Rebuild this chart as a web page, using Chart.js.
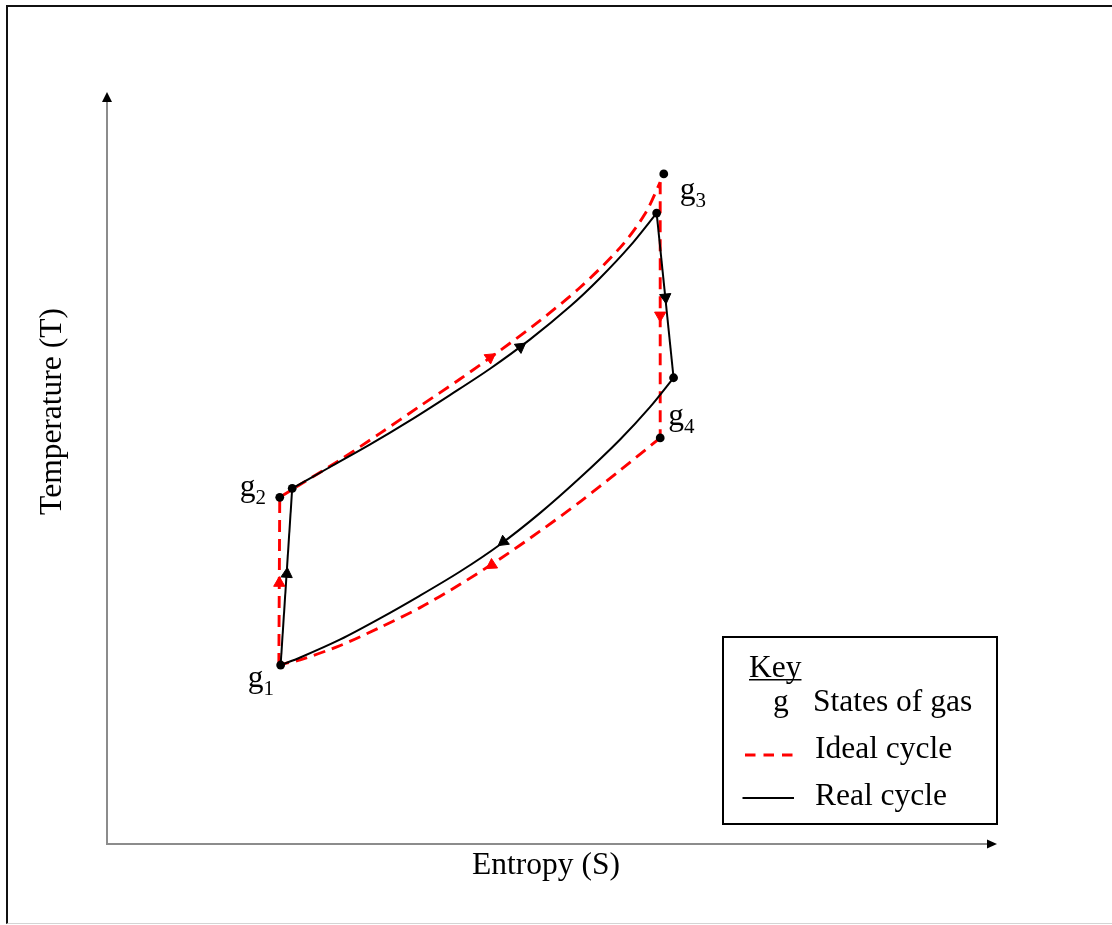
<!DOCTYPE html>
<html><head><meta charset="utf-8">
<script src="https://cdn.jsdelivr.net/npm/chart.js@4.4.1/dist/chart.umd.min.js"></script>
<style>
html,body{margin:0;padding:0;background:#fff;}
#wrap{position:relative;width:1112px;height:925px;overflow:hidden;}
#frame{position:absolute;left:6px;top:5px;width:1120px;height:916px;border-top:2px solid #111;border-left:2px solid #111;border-bottom:1px solid #d4d4d4;pointer-events:none;}
canvas{position:absolute;left:0;top:0;}
</style></head><body>
<div id="wrap"><canvas id="c" width="1112" height="925"></canvas><div id="frame"></div></div>
<script>
// ---- Data (arbitrary units: S and T scaled 0..100 along the drawn axes) ----
const stateNames = ['g1', 'g2', 'g3', 'g4'];

// State points
const realStateS  = [19.6, 20.9, 61.8, 63.7];
const realStateT  = [23.8, 47.3, 83.9, 62.0];
const idealStateS = [19.4, 19.5, 62.6, 62.2];
const idealStateT = [23.8, 46.1, 89.1, 54.0];

// Real cycle processes
const real12S = [19.6, 20.9];
const real12T = [23.8, 47.3];
const real23S = [20.9, 25.1, 29.6, 34.1, 38.6, 43.1, 47.6, 52.1, 55.4, 58.8, 61.8];
const real23T = [47.3, 50.1, 53.1, 56.3, 59.7, 63.2, 67.1, 71.5, 75.2, 79.5, 83.9];
const real34S = [61.8, 63.7];
const real34T = [83.9, 62.0];
const real41S = [63.7, 61.05, 57.7, 53.2, 48.7, 44.2, 39.7, 35.2, 30.75, 26.3, 21.8, 19.6];
const real41T = [62.0, 58.1, 53.8, 48.7, 44.0, 39.8, 36.2, 33.0, 30.0, 27.2, 24.8, 23.8];

// Ideal cycle processes
const ideal12S = [19.4, 19.5];
const ideal12T = [23.8, 46.1];
const ideal23S = [19.5, 21.8, 26.3, 30.75, 35.2, 39.7, 44.2, 48.7, 53.2, 57.7, 60.5, 62.2];
const ideal23T = [46.1, 47.8, 51.1, 54.6, 58.2, 61.8, 65.6, 69.6, 74.0, 79.3, 83.8, 88.0];
const ideal34S = [62.2, 62.2];
const ideal34T = [88.0, 54.0];
const ideal41S = [62.2, 57.7, 53.2, 48.7, 44.2, 39.7, 35.2, 30.75, 26.3, 21.8, 19.4];
const ideal41T = [54.0, 49.7, 45.5, 41.6, 37.9, 34.5, 31.4, 28.8, 26.4, 24.5, 23.8];

// Direction arrows on each process (position along the path)
const realArrowS  = [20.3, 46.5, 62.8, 44.6];
const realArrowT  = [35.9, 66.1, 72.7, 40.2];
const idealArrowS = [19.45, 43.1, 62.2, 43.3];
const idealArrowT = [34.7, 64.7, 70.3, 37.1];

// Axis / legend text
const xTitle = 'Entropy (S)';
const yTitle = 'Temperature (T)';
const legendTitle = 'Key';
const legendItems = ['States of gas', 'Ideal cycle', 'Real cycle'];

// ---- Helpers ----
const pts = (xs, ys) => xs.map((x, i) => ({x, y: ys[i]}));
const RED = '#ff0000';
const FONT = "'Liberation Serif','Times New Roman',serif";
const realArrowRot  = [4, 54, 174.5, 233];
const idealArrowRot = [0, 54.6, 180, 237];

function idealLine(data, tension) {
  return {type: 'line', data, borderColor: RED, borderWidth: 2.9, borderDash: [12, 7],
          pointRadius: 0, tension, fill: false, order: 3};
}
function realLine(data, tension) {
  return {type: 'line', data, borderColor: '#000', borderWidth: 2,
          pointRadius: 0, tension, fill: false, order: 2};
}

const decor = {
  id: 'decor',
  beforeDatasetsDraw(chart) {
    const {ctx, chartArea: a} = chart;
    ctx.save();
    ctx.strokeStyle = '#8c8c8c';
    ctx.lineWidth = 2;
    ctx.beginPath();
    ctx.moveTo(a.left + 1, a.bottom); ctx.lineTo(a.left + 1, a.top + 8);
    ctx.moveTo(a.left, a.bottom); ctx.lineTo(a.right - 8, a.bottom);
    ctx.stroke();
    ctx.fillStyle = '#000';
    ctx.beginPath();
    ctx.moveTo(a.left + 1, a.top); ctx.lineTo(a.left - 4, a.top + 10); ctx.lineTo(a.left + 6, a.top + 10);
    ctx.closePath(); ctx.fill();
    ctx.beginPath();
    ctx.moveTo(a.right, a.bottom); ctx.lineTo(a.right - 10, a.bottom - 4.5); ctx.lineTo(a.right - 10, a.bottom + 4.5);
    ctx.closePath(); ctx.fill();
    ctx.restore();
  },
  afterDraw(chart) {
    const {ctx, scales} = chart;
    const xs = scales.x, ys = scales.y;
    ctx.save();
    ctx.fillStyle = '#000';
    ctx.textBaseline = 'alphabetic';
    // Axis titles
    ctx.font = `31.5px ${FONT}`;
    ctx.textAlign = 'center';
    ctx.fillText(xTitle, 546, 874);
    ctx.save();
    ctx.translate(61, 411.5);
    ctx.rotate(-Math.PI / 2);
    ctx.fillText(yTitle, 0, 0);
    ctx.restore();

    // State labels g1..g4 (anchored to the ideal state points)
    const offs = [[-31, 22], [-40, -1], [16, 25], [8, -13]];
    ctx.textAlign = 'left';
    stateNames.forEach((name, i) => {
      const px = xs.getPixelForValue(idealStateS[i]) + offs[i][0];
      const py = ys.getPixelForValue(idealStateT[i]) + offs[i][1];
      ctx.font = `31.5px ${FONT}`;
      ctx.fillText(name[0], px, py);
      const w = ctx.measureText(name[0]).width;
      ctx.font = `21px ${FONT}`;
      ctx.fillText(name.slice(1), px + w, py + 8);
    });

    // Legend box
    ctx.lineWidth = 2;
    ctx.strokeStyle = '#000';
    ctx.strokeRect(723, 637, 274, 187);
    ctx.font = `31.5px ${FONT}`;
    ctx.fillText(legendTitle, 749, 677);
    const kw = ctx.measureText(legendTitle).width;
    ctx.fillRect(749, 679, kw, 1.5);
    ctx.fillText('g', 773, 711);
    ctx.fillText(legendItems[0], 813, 711);
    ctx.fillText(legendItems[1], 815, 758);
    ctx.fillText(legendItems[2], 815, 805);
    ctx.beginPath();
    ctx.setLineDash([10.5, 8]);
    ctx.strokeStyle = RED;
    ctx.lineWidth = 2.9;
    ctx.moveTo(745, 755); ctx.lineTo(794, 755);
    ctx.stroke();
    ctx.setLineDash([]);
    ctx.beginPath();
    ctx.strokeStyle = '#000';
    ctx.lineWidth = 2;
    ctx.moveTo(742.5, 798); ctx.lineTo(794, 798);
    ctx.stroke();
    ctx.restore();
  }
};

new Chart(document.getElementById('c'), {
  type: 'scatter',
  data: {
    datasets: [
      idealLine(pts(ideal12S, ideal12T), 0),
      idealLine(pts(ideal23S, ideal23T), 0.3),
      idealLine(pts(ideal34S, ideal34T), 0),
      idealLine(pts(ideal41S, ideal41T), 0.3),
      realLine(pts(real12S, real12T), 0),
      realLine(pts(real23S, real23T), 0.3),
      realLine(pts(real34S, real34T), 0),
      realLine(pts(real41S, real41T), 0.3),
      {data: pts(idealArrowS, idealArrowT), pointStyle: 'triangle', pointRadius: 6.5,
       pointRotation: idealArrowRot, backgroundColor: RED, borderColor: RED, borderWidth: 1, order: 1},
      {data: pts(realArrowS, realArrowT), pointStyle: 'triangle', pointRadius: 6.5,
       pointRotation: realArrowRot, backgroundColor: '#000', borderColor: '#000', borderWidth: 1, order: 1},
      {data: pts(realStateS, realStateT).concat(pts(idealStateS, idealStateT).slice(1)),
       pointStyle: 'circle', pointRadius: 4.4, backgroundColor: '#000', borderColor: '#000', borderWidth: 0, order: 0}
    ]
  },
  options: {
    responsive: false,
    animation: false,
    events: [],
    layout: {padding: {left: 106, right: 115, top: 92, bottom: 81}},
    scales: {
      x: {type: 'linear', min: 0, max: 100, display: false},
      y: {type: 'linear', min: 0, max: 100, display: false}
    },
    plugins: {legend: {display: false}, tooltip: {enabled: false}},
    elements: {line: {borderCapStyle: 'butt'}}
  },
  plugins: [decor]
});
</script>
</body></html>
